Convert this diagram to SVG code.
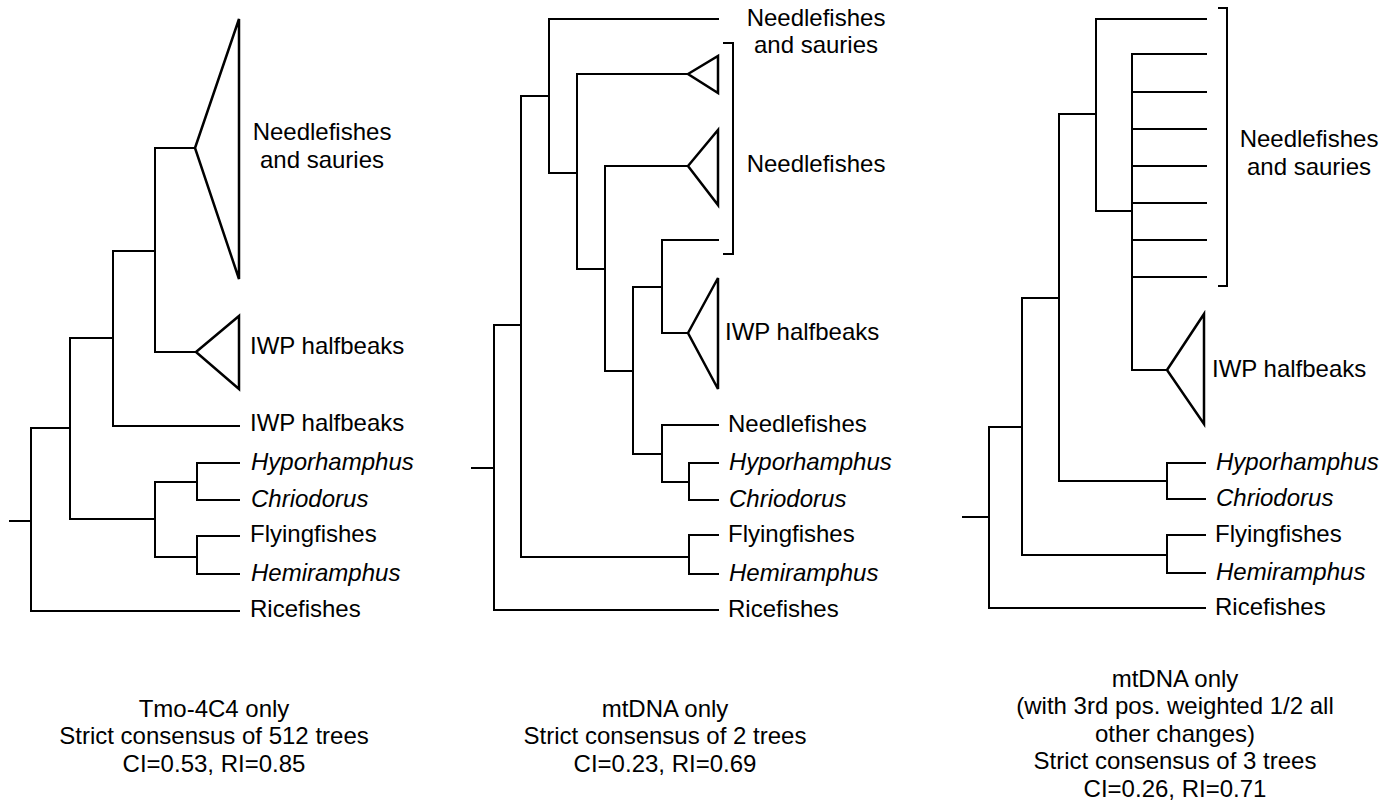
<svg xmlns="http://www.w3.org/2000/svg" width="1398" height="805" viewBox="0 0 1398 805">
<style>
  .br { fill: none; stroke: #000; stroke-width: 2; stroke-linecap: square; }
  .tri { fill: #fff; stroke: #000; stroke-width: 2.5; stroke-linejoin: miter; }
  .brk { fill: none; stroke: #000; stroke-width: 2; }
  text { font-family: "Liberation Sans", Arial, Helvetica, sans-serif; fill: #000; }
  .lbl { font-size: 24px; }
  .it { font-style: italic; }
  .mid { text-anchor: middle; }
  .cap { font-size: 24px; text-anchor: middle; }
</style>
<rect width="1398" height="805" fill="#fff"/>

<g id="connectors">
  <!-- Tree 1 -->
  <path class="br" d="M10 521 H31 M31 428 V611 M31 428 H70 M31 611 H239
    M70 338 V519 M70 338 H113 M70 519 H155
    M113 251 V426 M113 251 H155 M113 426 H239
    M155 148 V352 M155 148 H195 M155 352 H196
    M155 482 V557 M155 482 H197 M155 557 H197
    M197 463 V500 M197 463 H239 M197 500 H239
    M197 536 V574 M197 536 H239 M197 574 H239"/>
  <!-- Tree 2 -->
  <path class="br" d="M472 468 H494 M494 325 V610 M494 325 H521 M494 610 H718
    M521 96 V557 M521 96 H549 M521 557 H689
    M549 19 V173 M549 19 H718 M549 173 H577
    M577 74 V269 M577 74 H688 M577 269 H605
    M605 166 V371 M605 166 H688 M605 371 H633
    M633 287 V454 M633 287 H662 M633 454 H662
    M662 240 V333 M662 240 H718 M662 333 H688
    M662 425 V482 M662 425 H718 M662 482 H689
    M689 463 V500 M689 463 H718 M689 500 H718
    M689 535 V574 M689 535 H718 M689 574 H718"/>
  <!-- Tree 3 -->
  <path class="br" d="M963 517 H989 M989 427 V608 M989 427 H1022 M989 608 H1205
    M1022 298 V555 M1022 298 H1059 M1022 555 H1167
    M1059 114 V481 M1059 114 H1096 M1059 481 H1167
    M1096 19 V211 M1096 19 H1206 M1096 211 H1132
    M1132 54 V370 M1132 370 H1167
    M1132 54 H1206 M1132 92 H1206 M1132 129 H1206 M1132 166 H1206
    M1132 203 H1206 M1132 240 H1206 M1132 277 H1206
    M1167 463 V499 M1167 463 H1205 M1167 499 H1205
    M1167 535 V573 M1167 535 H1205 M1167 573 H1205"/>
</g>

<!-- Tree 1 nodes -->
<g id="t1-needlefishes-sauries">
  <polygon class="tri" points="195,148 239,19 239,279"/>
  <text class="lbl mid" x="322" y="140">Needlefishes</text>
  <text class="lbl mid" x="322" y="168">and sauries</text>
</g>
<g id="t1-iwp-clade">
  <polygon class="tri" points="196,352 239,316 239,389"/>
  <text class="lbl" x="250" y="354">IWP halfbeaks</text>
</g>
<g id="t1-iwp-leaf"><text class="lbl" x="250" y="431">IWP halfbeaks</text></g>
<g id="t1-hyporhamphus"><text class="lbl it" x="251" y="470">Hyporhamphus</text></g>
<g id="t1-chriodorus"><text class="lbl it" x="251" y="507">Chriodorus</text></g>
<g id="t1-flyingfishes"><text class="lbl" x="250" y="542">Flyingfishes</text></g>
<g id="t1-hemiramphus"><text class="lbl it" x="251" y="581">Hemiramphus</text></g>
<g id="t1-ricefishes"><text class="lbl" x="250" y="617">Ricefishes</text></g>
<g id="t1-caption">
  <text class="cap" x="214" y="717">Tmo-4C4 only</text>
  <text class="cap" x="214" y="744">Strict consensus of 512 trees</text>
  <text class="cap" x="214" y="772">CI=0.53, RI=0.85</text>
</g>

<!-- Tree 2 nodes -->
<g id="t2-needlefishes-sauries">
  <text class="lbl mid" x="816" y="26">Needlefishes</text>
  <text class="lbl mid" x="816" y="53">and sauries</text>
</g>
<g id="t2-needlefishes-group">
  <polygon class="tri" points="688,74 718,56 718,93"/>
  <polygon class="tri" points="688,166 718,130 718,205"/>
  <path class="brk" d="M723 43 H733 V254 H723"/>
  <text class="lbl mid" x="816" y="172">Needlefishes</text>
</g>
<g id="t2-iwp-clade">
  <polygon class="tri" points="688,333 718,278 718,389"/>
  <text class="lbl" x="725" y="340">IWP halfbeaks</text>
</g>
<g id="t2-needlefishes-leaf"><text class="lbl" x="728" y="432">Needlefishes</text></g>
<g id="t2-hyporhamphus"><text class="lbl it" x="729" y="470">Hyporhamphus</text></g>
<g id="t2-chriodorus"><text class="lbl it" x="729" y="507">Chriodorus</text></g>
<g id="t2-flyingfishes"><text class="lbl" x="728" y="542">Flyingfishes</text></g>
<g id="t2-hemiramphus"><text class="lbl it" x="729" y="581">Hemiramphus</text></g>
<g id="t2-ricefishes"><text class="lbl" x="728" y="617">Ricefishes</text></g>
<g id="t2-caption">
  <text class="cap" x="665" y="717">mtDNA only</text>
  <text class="cap" x="665" y="744">Strict consensus of 2 trees</text>
  <text class="cap" x="665" y="772">CI=0.23, RI=0.69</text>
</g>

<!-- Tree 3 nodes -->
<g id="t3-needlefishes-sauries">
  <path class="brk" d="M1218 8 H1227 V286 H1218"/>
  <text class="lbl mid" x="1309" y="147">Needlefishes</text>
  <text class="lbl mid" x="1309" y="175">and sauries</text>
</g>
<g id="t3-iwp-clade">
  <polygon class="tri" points="1167,370 1204,314 1204,424"/>
  <text class="lbl" x="1212" y="377">IWP halfbeaks</text>
</g>
<g id="t3-hyporhamphus"><text class="lbl it" x="1216" y="470">Hyporhamphus</text></g>
<g id="t3-chriodorus"><text class="lbl it" x="1216" y="506">Chriodorus</text></g>
<g id="t3-flyingfishes"><text class="lbl" x="1215" y="542">Flyingfishes</text></g>
<g id="t3-hemiramphus"><text class="lbl it" x="1216" y="580">Hemiramphus</text></g>
<g id="t3-ricefishes"><text class="lbl" x="1215" y="615">Ricefishes</text></g>
<g id="t3-caption">
  <text class="cap" x="1175" y="687">mtDNA only</text>
  <text class="cap" x="1175" y="714">(with 3rd pos. weighted 1/2 all</text>
  <text class="cap" x="1175" y="742">other changes)</text>
  <text class="cap" x="1175" y="769">Strict consensus of 3 trees</text>
  <text class="cap" x="1175" y="797">CI=0.26, RI=0.71</text>
</g>
</svg>
